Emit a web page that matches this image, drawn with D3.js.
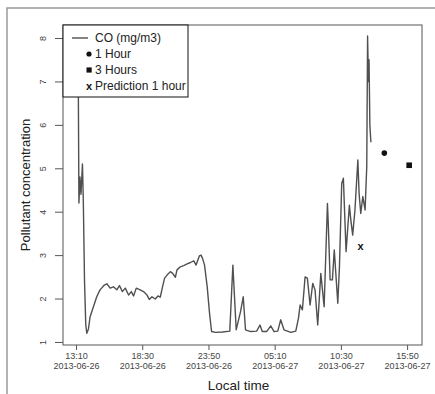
<!DOCTYPE html>
<html>
<head>
<meta charset="utf-8">
<script src="https://cdn.jsdelivr.net/npm/d3@7"></script>
<style>
  body { margin: 0; background: #fff; }
  svg { display: block; }
  text { font-family: "Liberation Sans", Arial, sans-serif; }
</style>
</head>
<body>
<svg id="chart" width="435" height="394"></svg>
<script>
// Observed CO concentration (mg/m3), local time
const coTimes = [
  "2013-06-26 13:21","2013-06-26 13:24","2013-06-26 13:29","2013-06-26 13:34","2013-06-26 13:41",
  "2013-06-26 13:45","2013-06-26 13:51","2013-06-26 13:57","2013-06-26 14:02","2013-06-26 14:10",
  "2013-06-26 14:18","2013-06-26 14:34","2013-06-26 14:50","2013-06-26 15:06","2013-06-26 15:27",
  "2013-06-26 15:39","2013-06-26 15:55","2013-06-26 16:11","2013-06-26 16:27","2013-06-26 16:40",
  "2013-06-26 16:54","2013-06-26 17:08","2013-06-26 17:24","2013-06-26 17:37","2013-06-26 17:48",
  "2013-06-26 18:01","2013-06-26 18:20","2013-06-26 18:36","2013-06-26 18:53","2013-06-26 19:04",
  "2013-06-26 19:17","2013-06-26 19:33","2013-06-26 19:46","2013-06-26 19:57","2013-06-26 20:08",
  "2013-06-26 20:18","2013-06-26 20:30","2013-06-26 20:46","2013-06-26 20:57","2013-06-26 21:10",
  "2013-06-26 21:18","2013-06-26 21:34","2013-06-26 21:50","2013-06-26 22:07","2013-06-26 22:23",
  "2013-06-26 22:39","2013-06-26 22:50","2013-06-26 23:06","2013-06-26 23:14","2013-06-26 23:21",
  "2013-06-26 23:31","2013-06-26 23:44","2013-06-26 23:55","2013-06-27 00:05","2013-06-27 00:24",
  "2013-06-27 00:58","2013-06-27 01:33","2013-06-27 01:48","2013-06-27 02:04","2013-06-27 02:25",
  "2013-06-27 02:38","2013-06-27 02:49","2013-06-27 03:14","2013-06-27 03:43","2013-06-27 03:59",
  "2013-06-27 04:10","2013-06-27 04:31","2013-06-27 04:51","2013-06-27 05:07","2013-06-27 05:25",
  "2013-06-27 05:39","2013-06-27 05:55","2013-06-27 06:28","2013-06-27 06:52","2013-06-27 07:05",
  "2013-06-27 07:13","2013-06-27 07:24","2013-06-27 07:37","2013-06-27 07:48","2013-06-27 08:01",
  "2013-06-27 08:14","2013-06-27 08:25","2013-06-27 08:38","2013-06-27 08:53","2013-06-27 09:09",
  "2013-06-27 09:25","2013-06-27 09:29","2013-06-27 09:38","2013-06-27 09:49","2013-06-27 09:58",
  "2013-06-27 10:15","2013-06-27 10:23","2013-06-27 10:34","2013-06-27 10:42","2013-06-27 10:55",
  "2013-06-27 11:11","2013-06-27 11:18","2013-06-27 11:27","2013-06-27 11:38","2013-06-27 11:52",
  "2013-06-27 11:58","2013-06-27 12:06","2013-06-27 12:16","2013-06-27 12:27","2013-06-27 12:35",
  "2013-06-27 12:39","2013-06-27 12:43","2013-06-27 12:46","2013-06-27 12:50","2013-06-27 12:55"
];
const coValues = [
  6.9, 4.2, 4.8, 4.4, 5.1,
  4.3, 2.4, 1.4, 1.2, 1.3,
  1.58, 1.81, 2.04, 2.2, 2.31,
  2.34, 2.24, 2.27, 2.2, 2.3,
  2.16, 2.24, 2.08, 2.16, 2.06,
  2.24, 2.2, 2.16, 2.08, 1.98,
  2.04, 1.99, 2.06, 2.03, 2.27,
  2.47, 2.54, 2.62, 2.58, 2.49,
  2.66, 2.73, 2.76, 2.8, 2.83,
  2.87, 2.77, 2.98, 3.0, 2.93,
  2.77, 2.27, 1.67, 1.24, 1.22,
  1.23, 1.25, 2.77, 1.28, 1.7,
  2.04, 1.28, 1.24, 1.25, 1.39,
  1.24, 1.24, 1.37, 1.24, 1.25,
  1.51, 1.28, 1.22, 1.25, 1.55,
  1.85, 1.74, 2.5, 2.47, 1.85,
  2.35, 2.2, 1.39, 2.58, 1.81,
  4.19, 3.73, 2.43, 2.43, 3.12,
  1.89, 2.73, 4.65, 4.77, 3.08,
  4.15, 3.81, 3.46, 4.04, 5.19,
  4.42, 3.96, 4.35, 4.04, 5.04,
  8.05, 7.0, 7.5, 6.0, 5.6
];

// Forecasts issued at the last observation
const hourTimes = ["2013-06-27 14:00"];
const hourValues = [5.35];
const threeHourTimes = ["2013-06-27 16:00"];
const threeHourValues = [5.07];
const predictionTimes = ["2013-06-27 12:05"];
const predictionValues = [3.19];

// Axes
const xTickTimes = ["2013-06-26 13:10","2013-06-26 18:30","2013-06-26 23:50",
                    "2013-06-27 05:10","2013-06-27 10:30","2013-06-27 15:50"];
const xDomain = ["2013-06-26 12:07","2013-06-27 17:02"];
const yTicks = [1, 2, 3, 4, 5, 6, 7, 8];
const yDomain = [0.93, 8.3];
const legendLabels = ["CO (mg/m3)", "1 Hour", "3 Hours", "Prediction 1 hour"];

const parse = d3.timeParse("%Y-%m-%d %H:%M");
const svg = d3.select("#chart");
const plot = { left: 63, right: 422, top: 25, bottom: 345 };

// Outer figure frame
svg.append("path")
  .attr("d", "M7,394 L7,8 L435,8")
  .attr("fill", "none").attr("stroke", "#9a9a9a").attr("stroke-width", 1.5);

const x = d3.scaleTime().domain(xDomain.map(parse)).range([plot.left, plot.right]);
const y = d3.scaleLinear().domain(yDomain).range([plot.bottom, plot.top]);

// Plot box
svg.append("rect")
  .attr("x", plot.left).attr("y", plot.top)
  .attr("width", plot.right - plot.left).attr("height", plot.bottom - plot.top)
  .attr("fill", "none").attr("stroke", "#555").attr("stroke-width", 1);

// X axis: time over date on each tick
const fmtTime = d3.timeFormat("%H:%M"), fmtDate = d3.timeFormat("%Y-%m-%d");
const xAxis = svg.append("g")
  .attr("transform", `translate(0,${plot.bottom})`)
  .call(d3.axisBottom(x).tickValues(xTickTimes.map(parse)).tickSize(5).tickFormat(""));
xAxis.select(".domain").remove();
xAxis.selectAll(".tick line").attr("stroke", "#555");
xAxis.selectAll(".tick").each(function(d) {
  const g = d3.select(this);
  g.append("text").attr("y", 14).attr("text-anchor", "middle")
    .attr("font-size", 9).attr("fill", "#444").text(fmtTime(d));
  g.append("text").attr("y", 24).attr("text-anchor", "middle")
    .attr("font-size", 9).attr("fill", "#444").text(fmtDate(d));
});

// Y axis with labels parallel to the axis
const yAxis = svg.append("g")
  .attr("transform", `translate(${plot.left},0)`)
  .call(d3.axisLeft(y).tickValues(yTicks).tickSize(8).tickFormat(""));
yAxis.select(".domain").remove();
yAxis.selectAll(".tick line").attr("stroke", "#555");
yAxis.selectAll(".tick").append("text")
  .attr("transform", "translate(-20,0) rotate(-90)")
  .attr("text-anchor", "middle").attr("dy", "0.35em")
  .attr("font-size", 9).attr("fill", "#444")
  .text(d => d);

// Axis titles
svg.append("text")
  .attr("x", (plot.left + plot.right) / 2 - 4).attr("y", 390)
  .attr("text-anchor", "middle").attr("font-size", 13.5).attr("fill", "#222")
  .text("Local time");
svg.append("text")
  .attr("transform", `translate(30,${(plot.top + plot.bottom) / 2}) rotate(-90)`)
  .attr("text-anchor", "middle").attr("font-size", 13).attr("fill", "#222")
  .text("Pollutant concentration");

// Observed series
const series = coTimes.map((t, i) => ({ t: parse(t), v: coValues[i] }));
svg.append("path")
  .datum(series)
  .attr("fill", "none").attr("stroke", "#505050").attr("stroke-width", 1.4)
  .attr("stroke-linejoin", "round")
  .attr("d", d3.line().x(d => x(d.t)).y(d => y(d.v)));

// Forecast markers
svg.selectAll("circle.hour")
  .data(hourTimes.map((t, i) => ({ t: parse(t), v: hourValues[i] })))
  .join("circle").attr("class", "hour")
  .attr("cx", d => x(d.t)).attr("cy", d => y(d.v)).attr("r", 2.8).attr("fill", "#111");
svg.selectAll("rect.three")
  .data(threeHourTimes.map((t, i) => ({ t: parse(t), v: threeHourValues[i] })))
  .join("rect").attr("class", "three")
  .attr("x", d => x(d.t) - 2.8).attr("y", d => y(d.v) - 2.8)
  .attr("width", 5.6).attr("height", 5.6).attr("fill", "#111");
svg.selectAll("text.pred")
  .data(predictionTimes.map((t, i) => ({ t: parse(t), v: predictionValues[i] })))
  .join("text").attr("class", "pred")
  .attr("x", d => x(d.t)).attr("y", d => y(d.v)).attr("dy", "0.32em")
  .attr("text-anchor", "middle").attr("font-size", 11).attr("font-weight", "bold")
  .attr("fill", "#111").text("x");

// Legend
const lg = svg.append("g");
lg.append("rect")
  .attr("x", plot.left).attr("y", plot.top).attr("width", 125).attr("height", 72)
  .attr("fill", "#fff").attr("stroke", "#111").attr("stroke-width", 1);
const rowY = i => plot.top + 13 + i * 16;
lg.append("line").attr("x1", 72).attr("x2", 88).attr("y1", rowY(0)).attr("y2", rowY(0))
  .attr("stroke", "#333").attr("stroke-width", 1.2);
lg.append("circle").attr("cx", 89).attr("cy", rowY(1)).attr("r", 2.6).attr("fill", "#111");
lg.append("rect").attr("x", 86.5).attr("y", rowY(2) - 2.6).attr("width", 5.2).attr("height", 5.2).attr("fill", "#111");
lg.append("text").attr("x", 89).attr("y", rowY(3)).attr("dy", "0.32em")
  .attr("text-anchor", "middle").attr("font-size", 11).attr("font-weight", "bold").attr("fill", "#111").text("x");
lg.selectAll("text.lab").data(legendLabels).join("text").attr("class", "lab")
  .attr("x", 95).attr("y", (d, i) => rowY(i)).attr("dy", "0.35em")
  .attr("font-size", 12).attr("fill", "#222").text(d => d);
</script>
</body>
</html>
